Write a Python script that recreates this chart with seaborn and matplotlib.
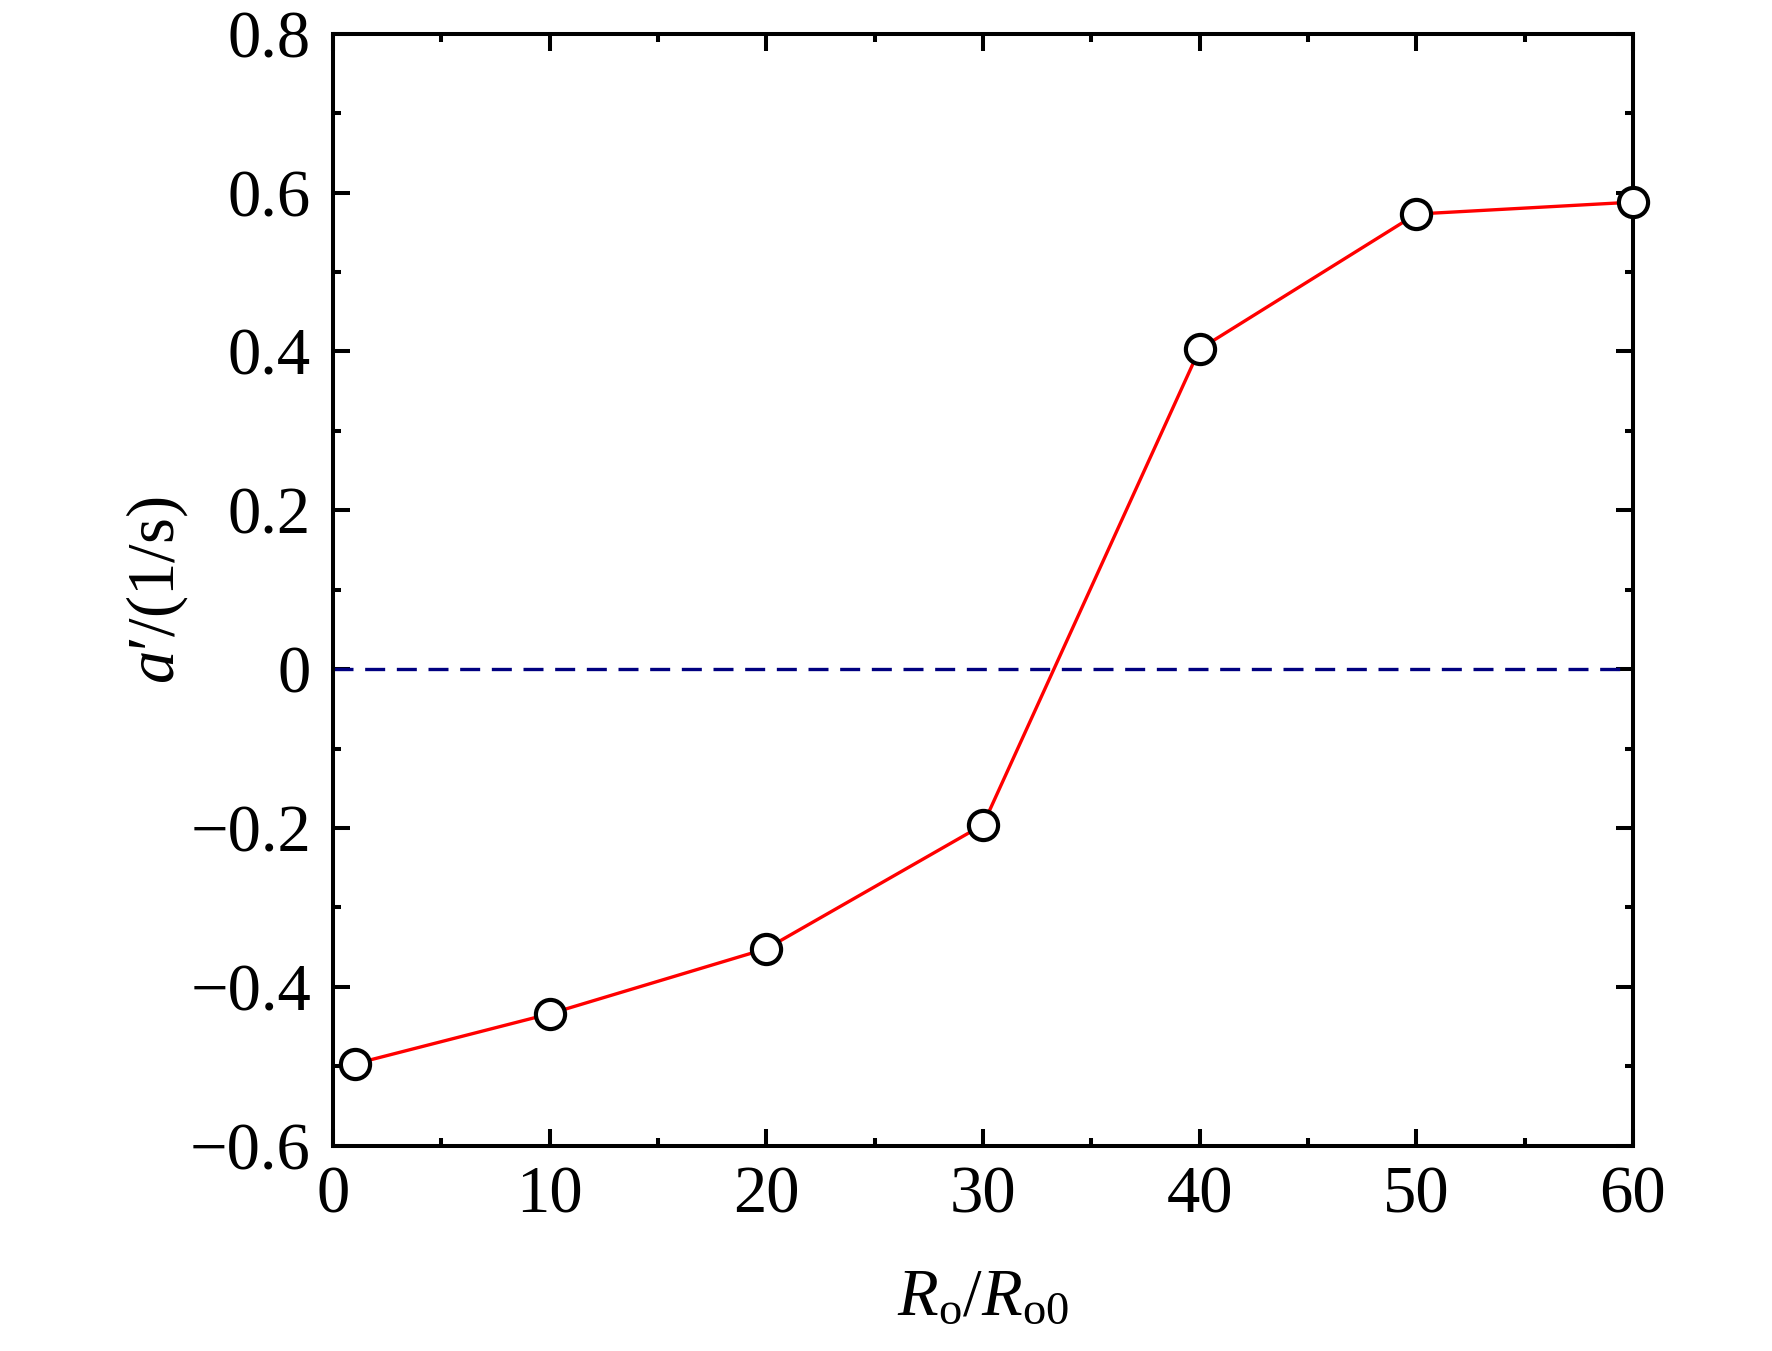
import numpy as np
import pandas as pd
import matplotlib
matplotlib.use("Agg")
import matplotlib.pyplot as plt
import seaborn as sns
from matplotlib.ticker import MultipleLocator

# data
ratio = [1, 10, 20, 30, 40, 50, 60]
a_prime = [-0.497, -0.434, -0.352, -0.196, 0.403, 0.573, 0.588]
ref_x = [0, 60]
ref_y = [0, 0]
x_ticks = [0, 10, 20, 30, 40, 50, 60]
y_ticks = [-0.6, -0.4, -0.2, 0, 0.2, 0.4, 0.6, 0.8]
y_tick_labels = ["\u22120.6", "\u22120.4", "\u22120.2", "0", "0.2", "0.4", "0.6", "0.8"]

sns.set_theme(style="ticks")
plt.rcParams["font.family"] = ["Liberation Serif", "DejaVu Serif"]
plt.rcParams["mathtext.fontset"] = "custom"
plt.rcParams["mathtext.rm"] = "Liberation Serif"
plt.rcParams["mathtext.it"] = "Liberation Serif:italic"
plt.rcParams["text.color"] = "black"
plt.rcParams["axes.labelcolor"] = "black"
plt.rcParams["xtick.color"] = "black"
plt.rcParams["ytick.color"] = "black"

df = pd.DataFrame({"x": ratio, "y": a_prime})
ref = pd.DataFrame({"x": ref_x, "y": ref_y})

fig, ax = plt.subplots(figsize=(8.86, 6.755), dpi=200)
fig.subplots_adjust(left=0.188, right=0.9215, top=0.975, bottom=0.152)

sns.lineplot(data=ref, x="x", y="y", ax=ax, color="#000080", lw=1.2,
             linestyle=(0, (6, 3.5)), zorder=2)
sns.lineplot(data=df, x="x", y="y", ax=ax, color="#ff0000", lw=1.2,
             marker="o", markersize=10.5, markerfacecolor="white",
             markeredgecolor="black", markeredgewidth=1.5, zorder=3,
             clip_on=False)

ax.set_xlim(0, 60)
ax.set_ylim(-0.6, 0.8)
ax.set_xticks(x_ticks)
ax.set_xticklabels([str(t) for t in x_ticks])
ax.set_yticks(y_ticks)
ax.set_yticklabels(y_tick_labels)
ax.xaxis.set_minor_locator(MultipleLocator(5))
ax.yaxis.set_minor_locator(MultipleLocator(0.1))

for s in ax.spines.values():
    s.set_visible(True)
    s.set_linewidth(1.45)
    s.set_color("black")

ax.tick_params(which="both", direction="in", top=True, right=True,
               color="black", width=1.45, labelcolor="black")
ax.tick_params(which="major", length=6)
ax.tick_params(which="minor", length=3)
ax.tick_params(axis="x", which="major", labelsize=24, pad=7)
ax.tick_params(axis="y", which="major", labelsize=24, pad=8)

ax.set_xlabel(r"$R_\mathrm{o}/R_\mathrm{o0}$", fontsize=24, labelpad=15, color="black")
ax.set_ylabel("$a$\u2032/(1/s)", fontsize=24, labelpad=0, color="black")

fig.savefig("out.png", dpi=200, facecolor="white")
